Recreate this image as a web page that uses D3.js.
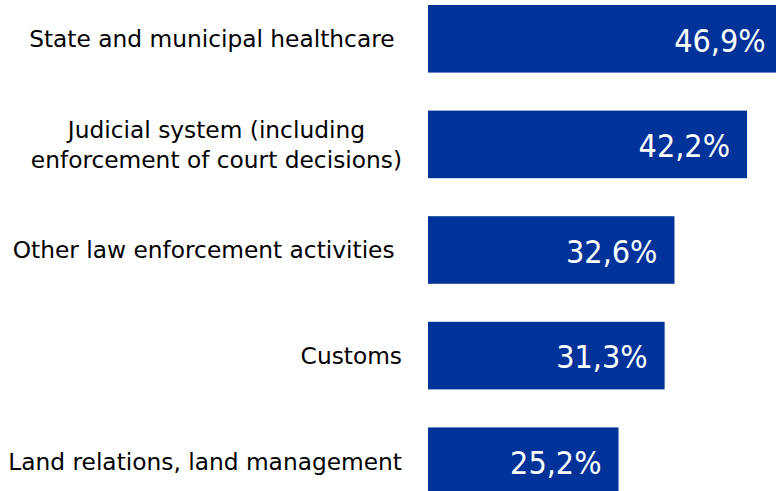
<!DOCTYPE html>
<html>
<head>
<meta charset="utf-8">
<script src="https://cdn.jsdelivr.net/npm/d3@7"></script>
<style>
  html, body { margin: 0; padding: 0; background: #fff; overflow: hidden; }
  svg { display: block; }
  text { white-space: pre; }
</style>
</head>
<body>
<div id="chart"></div>
<script>
// ── Corruption-prone sectors — horizontal bar chart ─────────

// trailing spaces kept as in the source labels
const categories = [
    ['State and municipal healthcare '],
    ['Judicial system (including', 'enforcement of court decisions)'],
    ['Other law enforcement activities '],
    ['Customs'],
    ['Land relations, land management']
];
const values = [46.9, 42.2, 32.6, 31.3, 25.2];

const width = 776;
const height = 491;
const labelFont = "'DejaVu Sans', sans-serif";
const valueFont = "'DejaVu Sans Condensed', 'DejaVu Sans', sans-serif";

const svg = d3.select('#chart')
    .append('svg')
    .attr('width', width)
    .attr('height', height);

const keys = categories.map((d, i) => i);

const x = d3.scaleLinear()
    .domain([0, 50])
    .range([428, 806]);

const y = d3.scaleBand()
    .domain(keys)
    .range([5, 495])
    .paddingInner(0.36)
    .paddingOuter(0);

// Bars
svg.append('g')
    .selectAll('rect')
    .data(values)
    .join('rect')
    .attr('x', x(0))
    .attr('y', (d, i) => y(i))
    .attr('width', d => x(d) - x(0))
    .attr('height', y.bandwidth())
    .attr('fill', '#003399');

// Value labels
svg.append('g')
    .selectAll('text')
    .data(values)
    .join('text')
    .attr('x', d => x(d) - 17)
    .attr('y', (d, i) => y(i) + y.bandwidth() / 2)
    .attr('dy', '0.4em')
    .attr('text-anchor', 'end')
    .attr('font-family', valueFont)
    .attr('font-size', '32px')
    .attr('fill', '#fff')
    .text(d => d.toFixed(1).replace('.', ',') + '%');

// Category labels (lines centred on each other, block right-aligned)
const lineH = 30;
const labels = svg.append('g')
    .selectAll('text')
    .data(categories)
    .join('text')
    .attr('font-family', labelFont)
    .attr('font-size', '23.3px')
    .attr('fill', '#000')
    .attr('text-anchor', 'middle');

labels.each(function (lines, i) {
    const t = d3.select(this);
    const cy = y(i) + y.bandwidth() / 2;
    lines.forEach((line, j) => {
        t.append('tspan')
            .attr('x', 0)
            .attr('y', cy + (j - (lines.length - 1) / 2) * lineH)
            .attr('dy', '0.36em')
            .text(line);
    });
    // shift so the widest line ends at the right edge
    const w = d3.max(t.selectAll('tspan').nodes(), n => n.getComputedTextLength());
    t.selectAll('tspan').attr('x', 402 - w / 2);
});
</script>
</body>
</html>
